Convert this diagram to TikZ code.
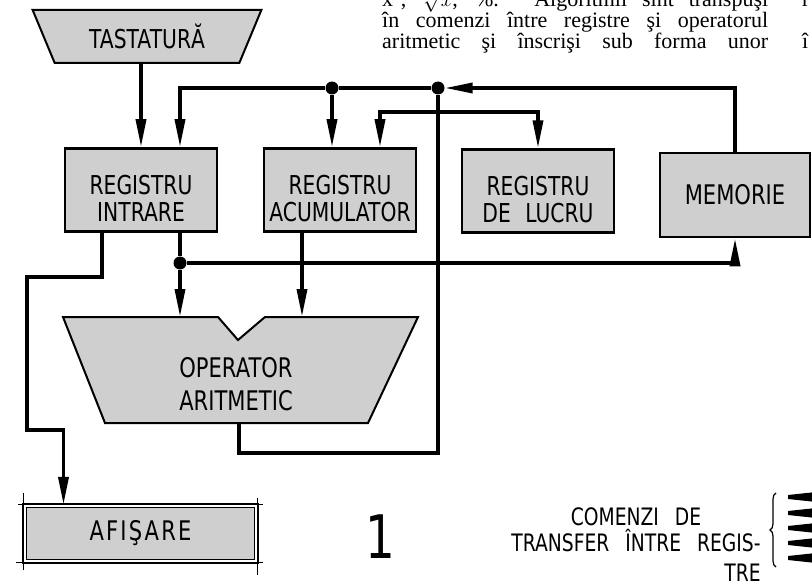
\documentclass[tikz,border=0pt]{standalone}
\usepackage{fontspec}
\usepackage{tikz}
\usetikzlibrary{arrows.meta, positioning, shapes.geometric, decorations.pathreplacing}
\newfontfamily\draftfont{DejaVu Sans}[FakeStretch=0.78]
\newfontfamily\draftwide{DejaVu Sans}[FakeStretch=0.78, LetterSpace=8]
\newfontfamily\bookfont{Liberation Serif}
\definecolor{BoxGray}{HTML}{CFCFCF}

\begin{document}
\begin{tikzpicture}[x=1pt, y=-1pt, >={Triangle[length=28pt, width=10pt]},
  reg/.style={draw, line width=2.5pt, fill=BoxGray, minimum width=152pt,
    minimum height=83pt, inner sep=0pt, align=center, text height=62pt,
    text depth=0pt, font={\draftfont\fontsize{26}{27}\selectfont}},
  bus/.style={line width=3.5pt},
  dot/.style={circle, fill, inner sep=0pt, minimum size=13pt},
  book/.style={inner sep=0pt, anchor=base west,
    font={\bookfont\fontsize{22}{22}\selectfont}},
  legend/.style={inner sep=0pt, align=center,
    font={\draftfont\fontsize{24}{26}\selectfont}}]
  \useasboundingbox (0,0) rectangle (812,586);
  \clip (0,0) rectangle (812,586);
  % Page text
  \node[book] (line1) at (382,7)
    {\makebox[386pt][s]{x$^2$, $\sqrt{x}$, \%. Algoritmii sînt transpuşi}};
  \node[book] (line2) at (382,28)
    {\makebox[386pt][s]{în comenzi între registre şi operatorul}};
  \node[book] (line3) at (382,49)
    {\makebox[386pt][s]{aritmetic şi înscrişi sub forma unor}};
  \node[book] (next1) at (802,7) {r};
  \node[book] (next3) at (802,49) {î};
  % Keyboard
  \node[trapezium, trapezium stretches=true, shape border rotate=180,
    trapezium angle=61, minimum width=229pt, minimum height=53pt,
    draw, line width=2pt, fill=BoxGray, inner sep=0pt,
    font={\draftfont\fontsize{26}{27}\selectfont}] (tast) at (147,36.5) {TASTATURĂ};
  % Registers
  \node[reg] (intrare) at (141,190) {REGISTRU\\INTRARE};
  \node[reg] (acum) at (340,190) {REGISTRU\\ACUMULATOR};
  \node[reg] (lucru) at (538,191) {REGISTRU\\DE\hspace{8pt} LUCRU};
  \node[reg, minimum width=150pt, minimum height=84pt, text height=19pt,
    font={\draftfont\fontsize{27}{27}\selectfont}] (memorie) at (735,195) {MEMORIE};
  % Arithmetic operator
  \coordinate (op-nw) at (63,317);
  \coordinate (op-ne) at (418,317);
  \coordinate (op-se) at (368,423);
  \coordinate (op-sw) at (105,423);
  \coordinate (opout) at (239,423);
  \draw[line width=2pt, fill=BoxGray] (op-nw) -- (218,317) -- (238,340)
    -- (265,317) -- (op-ne) -- (op-se) -- (op-sw) -- cycle;
  \node[align=center, font={\draftfont\fontsize{27}{33}\selectfont}]
    (oper) at (236,384) {OPERATOR\\ARITMETIC};
  % Display
  \node[draw, double, line width=1.2pt, double distance=2.5pt, fill=BoxGray,
    minimum width=232pt, minimum height=56pt,
    font={\draftwide\fontsize{27}{27}\selectfont}] (afisare) at (140.5,533.5) {AFIŞARE};
  \draw[line width=1pt] ([xshift=-6pt]afisare.north west) -- ([xshift=6pt]afisare.north east);
  \draw[line width=1pt] ([xshift=-8pt]afisare.south west) -- ([xshift=6pt]afisare.south east);
  \draw[line width=1pt] ([yshift=12pt]afisare.north west) -- ([yshift=-8pt]afisare.south west);
  \draw[line width=1pt] ([yshift=7pt]afisare.north east) -- ([yshift=-13pt]afisare.south east);
  \node[font={\draftfont\fontsize{60}{60}\selectfont}] (fignum) at (380,537) {1};
  % Junctions
  \node[dot] (ja) at (332,88) {};
  \node[dot] (jb) at (438,88) {};
  \node[dot] (jc) at (180,263) {};
  \coordinate (in-out) at ([xshift=-39pt]intrare.south);
  \coordinate (acc-out) at ([xshift=-38pt]acum.south);
  % Upper bus
  \draw[bus, ->] (tast.south -| intrare.north) -- (intrare.north);
  \draw[bus, ->] (ja) -| ([xshift=39pt]intrare.north);
  \draw[bus, ->] (ja) -- (ja |- acum.north);
  \draw[bus] (ja) -- (jb);
  \draw[bus, ->] (memorie.north) |- (jb);
  \draw[bus, <->] ([xshift=40pt]acum.north) -- ++(0,-35) -| (lucru.north);
  % Lower bus
  \draw[bus] ([xshift=39pt]intrare.south) -- (jc);
  \draw[bus, ->] (jc) -- (jc |- op-nw);
  \draw[bus, ->] (acc-out) -- (acc-out |- op-nw);
  \draw[bus, ->] (jc) -| (memorie.south);
  \draw[bus] (opout) -- ++(0,30) -| (jb);
  \draw[bus, ->] (in-out) -- ++(0,44) -| (27,430) -| ([xshift=-77pt]afisare.north);
  % Legend
  \node[legend] (cmd) at (636,530)
    {COMENZI\hspace{10pt} DE\\TRANSFER\hspace{10pt} ÎNTRE\hspace{10pt} REGIS-};
  \node[legend, anchor=north east] (cmd-tre) at ([yshift=-12pt]cmd.south east) {TRE};
  \draw[line width=1.2pt, decorate, decoration={brace, amplitude=6pt}]
    (776,567) -- (776,493);
  \foreach \y in {497,513,528,543,558}
    \fill (788,\y-2) -- (830,\y-6.5) -- (830,\y+6.5) -- (788,\y+2) -- cycle;
\end{tikzpicture}
\end{document}
